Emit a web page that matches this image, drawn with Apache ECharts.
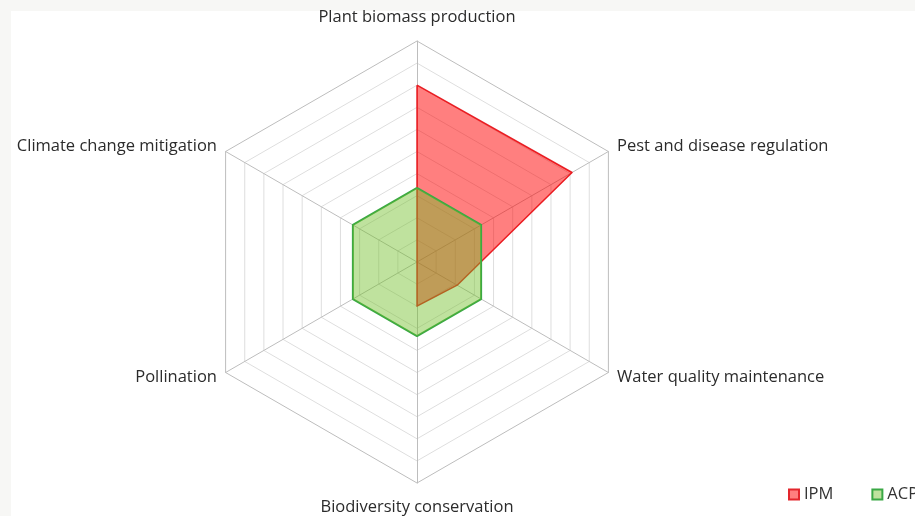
<!DOCTYPE html>
<html>
<head>
<meta charset="utf-8">
<script src="https://cdn.jsdelivr.net/npm/echarts@6/dist/echarts.min.js"></script>
<style>
html,body{margin:0;padding:0;background:#f7f7f5}
#frame{position:absolute;left:11px;top:11px;right:0;bottom:0;background:#fff}
#chart{position:absolute;left:0;top:0;width:915px;height:516px}
</style>
</head>
<body>
<div id="frame"></div>
<div id="chart"></div>
<script>
// indicators listed counter-clockwise from the top
const axes = ['Plant biomass production','Climate change mitigation','Pollination',
  'Biodiversity conservation','Water quality maintenance','Pest and disease regulation'];
const ipm = [8, 0, 0, 2, 2.1, 8.1];
const acp = [3.35, 3.35, 3.35, 3.35, 3.35, 3.35];
const maxVal = 10;

const ringColors = Array(10).fill('#dedede').concat(['#bdbdbd']);

const chart = echarts.init(document.getElementById('chart'));
chart.setOption({
  animation:false,
  textStyle:{fontFamily:'Open Sans'},
  legend:{left:783,top:481,width:400,itemWidth:10,itemHeight:10,itemGap:38,icon:'rect',
    textStyle:{fontSize:16.5,color:'#333',fontFamily:'Open Sans'},
    data:['IPM','ACP']},
  radar:{
    center:[417,262],radius:221,startAngle:90,shape:'polygon',splitNumber:10,
    indicator:axes.map(n=>({name:n,max:maxVal,min:0})),
    axisName:{color:'#2b2b2b',fontSize:16.5,fontFamily:'Open Sans',
      formatter:n=>n===axes[0]?'{t|'+n+'}':n===axes[3]?'{b|'+n+'}':n,
      rich:{t:{fontSize:16.5,color:'#2b2b2b',padding:[0,0,5,0]},
            b:{fontSize:16.5,color:'#2b2b2b',padding:[6,0,0,0]}}},
    nameGap:10,
    axisLine:{lineStyle:{color:'#bdbdbd',width:1}},
    splitLine:{lineStyle:{color:ringColors,width:1}},
    splitArea:{show:false},
    axisLabel:{show:false},axisTick:{show:false}
  },
  series:[
    {type:'radar',symbol:'none',
      data:[
        {name:'IPM',value:ipm,lineStyle:{color:'#e3262d',width:1.5},
          itemStyle:{color:'rgba(255,0,0,0.5)',borderColor:'#e3262d',borderWidth:1.5},
          areaStyle:{color:'rgba(255,0,0,0.5)',opacity:1}},
        {name:'ACP',value:acp,lineStyle:{color:'#3aa845',width:2},
          itemStyle:{color:'rgba(112,190,40,0.45)',borderColor:'#3aa845',borderWidth:1.5},
          areaStyle:{color:'rgba(112,190,40,0.45)',opacity:1}}
      ]}
  ]
});
</script>
</body>
</html>
